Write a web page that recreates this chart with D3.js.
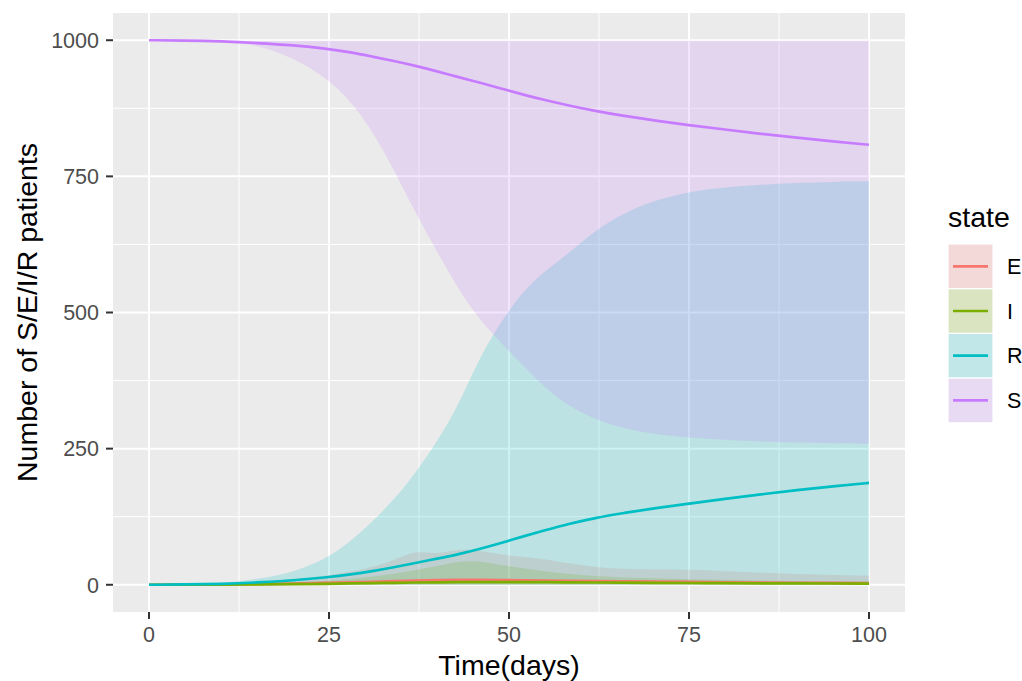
<!DOCTYPE html>
<meta charset="utf-8">
<style>
body { margin: 0; background: #fff; }
text { font-family: "Liberation Sans", Arial, Helvetica, sans-serif; }
.tick-label { fill: #4d4d4d; font-size: 21.5px; }
.axis-title { fill: #000; font-size: 28.5px; }
</style>
<svg width="1022" height="681"></svg>
<script src="https://cdn.jsdelivr.net/npm/d3@7"></script>
<script>

// time grid (days)
var days = [0, 5, 10, 15, 20, 25, 28, 31, 34, 37, 40, 43, 46, 49, 52, 55, 58, 62, 66, 70, 75, 80, 85, 90, 95, 100];

// mean lines
var sLine = [1000, 999.5, 998, 995, 991, 984, 978, 970, 962, 953, 943, 932, 922, 911, 900, 890, 881, 870, 861, 853, 844, 836, 828, 821, 814, 808];
var rLine = [0, 0.5, 1.5, 4, 8, 14, 19, 25, 32, 40, 48, 56, 66, 77, 89, 100, 111, 123, 132, 140, 149, 158, 166, 174, 181, 187];
var eLine = [0, 0.2, 0.5, 1, 2, 3.5, 4.5, 5.5, 6.7, 7.8, 8.5, 9, 9, 8.7, 8.3, 7.9, 7.4, 6.9, 6.3, 5.8, 5.2, 4.6, 4.1, 3.7, 3.3, 3];
var iLine = [0, 0.1, 0.3, 0.6, 1.1, 1.8, 2.4, 3, 3.6, 4.2, 4.6, 4.9, 5, 5, 4.9, 4.7, 4.5, 4.2, 3.9, 3.6, 3.3, 3, 2.7, 2.5, 2.3, 2.1];

// ribbon bounds
var sLow  = [1000, 999.5, 998, 992, 968, 928, 888, 835, 762, 683, 612, 542, 485, 443, 402, 362, 330, 303, 287, 277, 270, 266, 263, 261, 260, 259];
var sHigh = [1000, 999, 999, 999, 999, 999, 999, 999, 999, 999, 999, 999, 999, 999, 999, 999, 999, 999, 999, 999, 999, 999, 999, 999, 999, 999];
var rLow  = [0, 0, 0, 0, 0, 0, 0, 0, 0, 0, 0, 0, 0, 0, 0, 0, 0, 0, 0, 0, 0, 0, 0, 0, 0, 0];
var rHigh = [0, 1, 3, 10, 22, 50, 80, 115, 156, 205, 262, 330, 420, 485, 540, 577, 605, 652, 683, 705, 722, 730, 735, 738, 740, 741];
var eLow  = [0, 0, 0, 0, 0, 0, 0, 0, 0, 0, 0, 0, 0, 0, 0, 0, 0, 0, 0, 0, 0, 0, 0, 0, 0, 0];
var eHigh = [0, 0.5, 2, 5, 10, 17, 24, 32, 44, 64, 55, 66, 63, 55, 51, 47, 40, 32, 29, 28, 28, 25, 22, 20, 18, 17];
var iLow  = [0, 0, 0, 0, 0, 0, 0, 0, 0, 0, 0, 0, 0, 0, 0, 0, 0, 0, 0, 0, 0, 0, 0, 0, 0, 0];
var iHigh = [0, 0.2, 1, 2, 4, 7, 11, 15, 20, 27, 34, 43, 44, 36, 30, 25, 20, 16, 13, 12, 10, 9, 8, 7, 6, 6];

var states = ["E", "I", "R", "S"];
var colors = ["#F8766D", "#7CAE00", "#00BFC4", "#C77CFF"];
var xTicks = [0, 25, 50, 75, 100];
var yTicks = [0, 250, 500, 750, 1000];

var series = [
  { state: "E", line: eLine, low: eLow, high: eHigh },
  { state: "I", line: iLine, low: iLow, high: iHigh },
  { state: "R", line: rLine, low: rLow, high: rHigh },
  { state: "S", line: sLine, low: sLow, high: sHigh }
];

var svg = d3.select("svg");
var panel = { left: 113, top: 13, right: 905, bottom: 612 };

var color = d3.scaleOrdinal().domain(states).range(colors);

// ggplot style 5% expansion
var x = d3.scaleLinear().domain([-5, 105]).range([panel.left, panel.right]);
var y = d3.scaleLinear().domain([-50, 1050]).range([panel.bottom, panel.top]);

svg.append("rect")
    .attr("x", panel.left).attr("y", panel.top)
    .attr("width", panel.right - panel.left)
    .attr("height", panel.bottom - panel.top)
    .attr("fill", "#ebebeb");

var minorX = [12.5, 37.5, 62.5, 87.5];
var minorY = [125, 375, 625, 875];

var grid = svg.append("g");
grid.selectAll(".minx").data(minorX).enter().append("line")
    .attr("x1", x).attr("x2", x)
    .attr("y1", panel.top).attr("y2", panel.bottom)
    .attr("stroke", "#fff").attr("stroke-width", 1);
grid.selectAll(".miny").data(minorY).enter().append("line")
    .attr("y1", y).attr("y2", y)
    .attr("x1", panel.left).attr("x2", panel.right)
    .attr("stroke", "#fff").attr("stroke-width", 1);
grid.selectAll(".majx").data(xTicks).enter().append("line")
    .attr("x1", x).attr("x2", x)
    .attr("y1", panel.top).attr("y2", panel.bottom)
    .attr("stroke", "#fff").attr("stroke-width", 2);
grid.selectAll(".majy").data(yTicks).enter().append("line")
    .attr("y1", y).attr("y2", y)
    .attr("x1", panel.left).attr("x2", panel.right)
    .attr("stroke", "#fff").attr("stroke-width", 2);

var area = d3.area()
    .x(function(d, i) { return x(days[i]); })
    .y0(function(d) { return y(d[0]); })
    .y1(function(d) { return y(d[1]); })
    .curve(d3.curveBasis);

var line = d3.line()
    .x(function(d, i) { return x(days[i]); })
    .y(function(d) { return y(d); })
    .curve(d3.curveBasis);

svg.append("g").selectAll("path")
    .data(series)
    .enter().append("path")
    .attr("d", function(s) { return area(s.low.map(function(v, i) { return [v, s.high[i]]; })); })
    .attr("fill", function(s) { return color(s.state); })
    .attr("fill-opacity", 0.2);

svg.append("g").selectAll("path")
    .data(series)
    .enter().append("path")
    .attr("d", function(s) { return line(s.line); })
    .attr("fill", "none")
    .attr("stroke", function(s) { return color(s.state); })
    .attr("stroke-width", 2.7);

// axes
var xAxis = svg.append("g");
xAxis.selectAll("line").data(xTicks).enter().append("line")
    .attr("x1", x).attr("x2", x)
    .attr("y1", panel.bottom).attr("y2", panel.bottom + 7)
    .attr("stroke", "#333").attr("stroke-width", 2);
xAxis.selectAll("text").data(xTicks).enter().append("text")
    .attr("class", "tick-label")
    .attr("x", x).attr("y", 642)
    .attr("text-anchor", "middle")
    .text(function(d) { return d; });

var yAxis = svg.append("g");
yAxis.selectAll("line").data(yTicks).enter().append("line")
    .attr("y1", y).attr("y2", y)
    .attr("x1", panel.left - 7).attr("x2", panel.left)
    .attr("stroke", "#333").attr("stroke-width", 2);
yAxis.selectAll("text").data(yTicks).enter().append("text")
    .attr("class", "tick-label")
    .attr("x", 99).attr("y", y)
    .attr("dy", "0.36em")
    .attr("text-anchor", "end")
    .text(function(d) { return d; });

svg.append("text")
    .attr("class", "axis-title")
    .attr("x", (panel.left + panel.right) / 2).attr("y", 675)
    .attr("text-anchor", "middle")
    .text("Time(days)");

svg.append("text")
    .attr("class", "axis-title")
    .attr("transform", "translate(37," + (panel.top + panel.bottom) / 2 + ") rotate(-90)")
    .attr("text-anchor", "middle")
    .text("Number of S/E/I/R patients");

// legend
var legend = svg.append("g");
legend.append("text")
    .attr("class", "axis-title")
    .attr("x", 948).attr("y", 227)
    .text("state");

var keys = legend.selectAll("g.key")
    .data(states)
    .enter().append("g")
    .attr("class", "key")
    .attr("transform", function(d, i) { return "translate(948," + (244 + i * 44.7) + ")"; });

keys.append("rect")
    .attr("width", 45).attr("height", 44.7)
    .attr("fill", "#f2f2f2")
    .attr("stroke", "#fff").attr("stroke-width", 1.2);
keys.append("rect")
    .attr("x", 0.6).attr("y", 0.6)
    .attr("width", 43.8).attr("height", 43.5)
    .attr("fill", function(d) { return color(d); })
    .attr("fill-opacity", 0.2);
keys.append("line")
    .attr("x1", 5).attr("x2", 40)
    .attr("y1", 22.3).attr("y2", 22.3)
    .attr("stroke", function(d) { return color(d); })
    .attr("stroke-width", 2.7);
keys.append("text")
    .attr("class", "tick-label")
    .style("fill", "#000")
    .attr("x", 59).attr("y", 22.3)
    .attr("dy", "0.36em")
    .text(function(d) { return d; });

</script>
